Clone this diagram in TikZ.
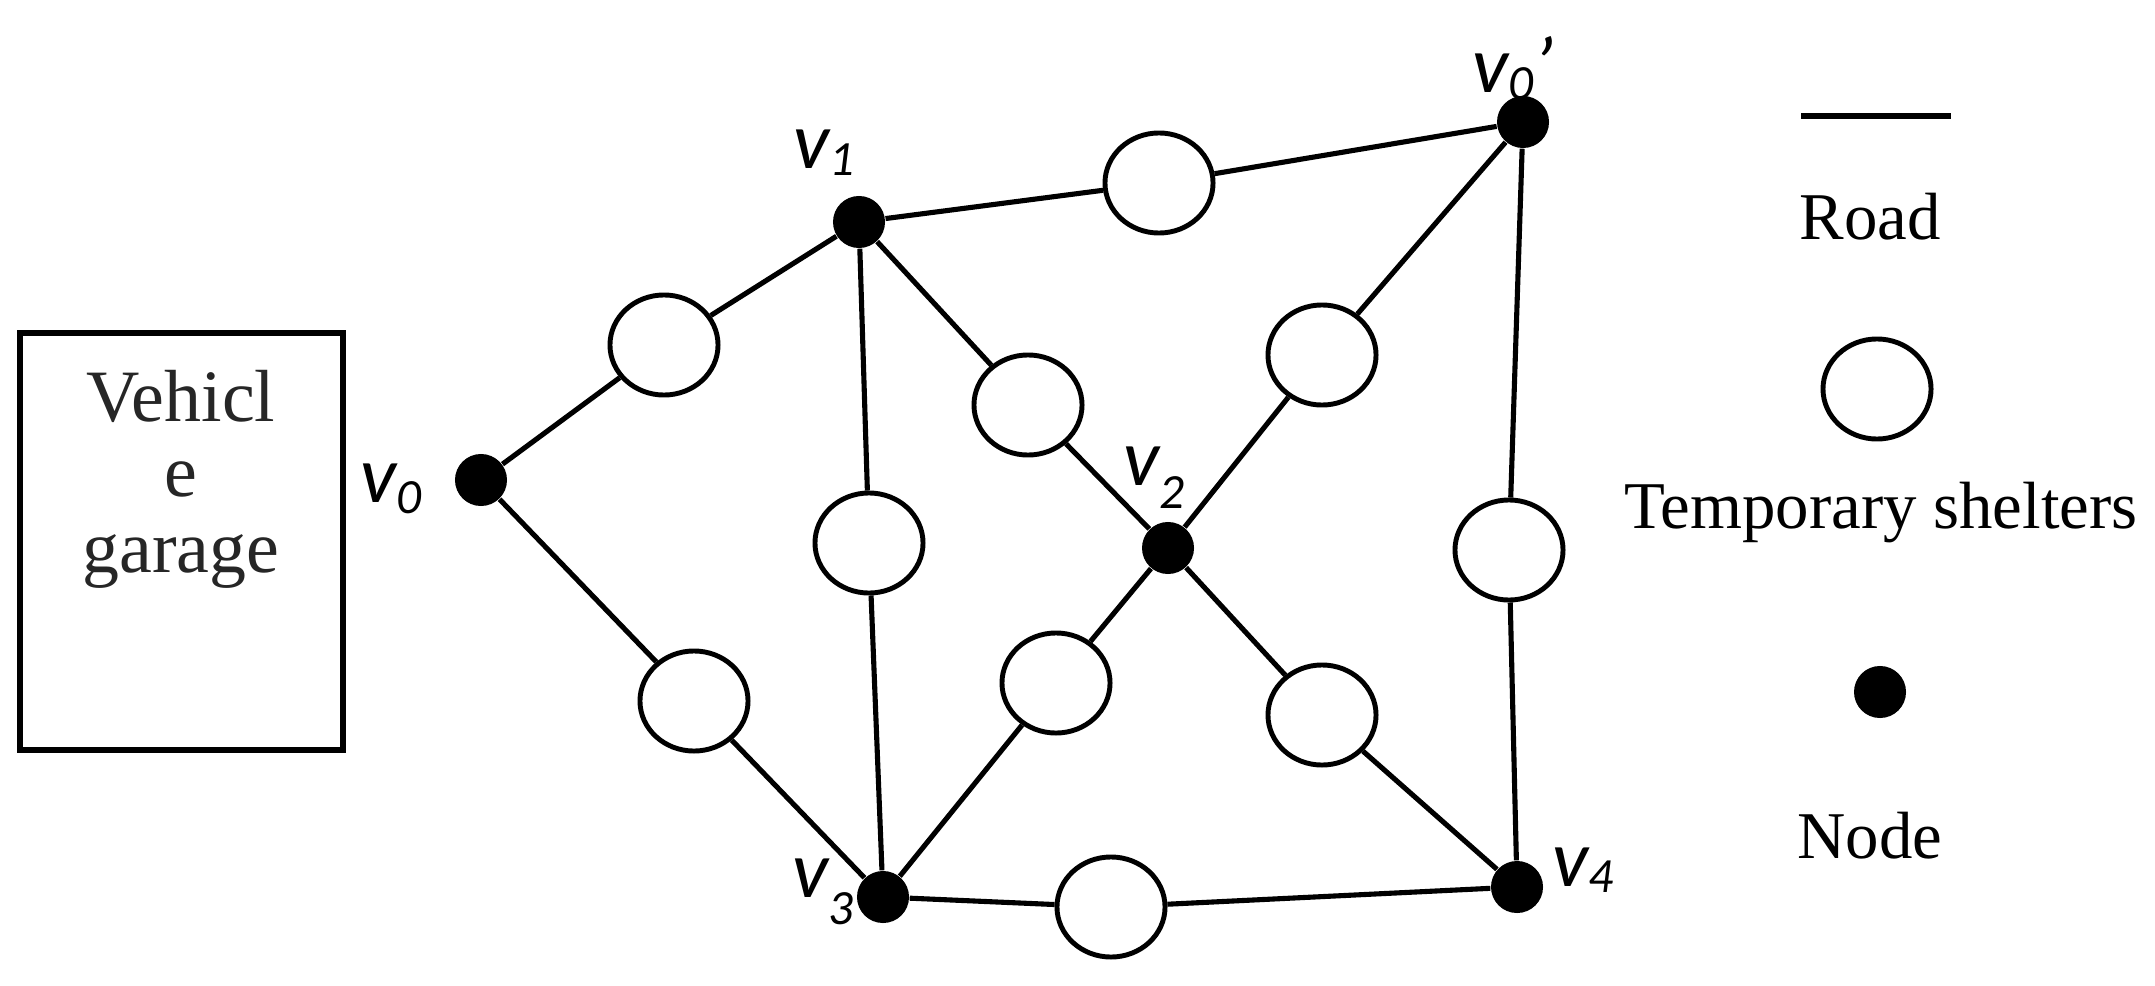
\documentclass[tikz,border=0pt]{standalone}
\usepackage{fontspec}
\setmainfont{Liberation Serif}
\newfontfamily\labfont{Carlito}
\usetikzlibrary{shapes.geometric}
\newcommand\vsub[2]{v\raisebox{-#2}{\fontsize{14}{14}\selectfont #1}}
\begin{document}
\begin{tikzpicture}[x=0.01cm,y=-0.01cm,
  road/.style={line width=1.45pt},
  shelter/.style={draw, line width=1.4pt, fill=white, ellipse, minimum width=1.08cm, minimum height=1.0cm, inner sep=0pt},
  vnode/.style={circle, fill=black, minimum size=0.52cm, inner sep=0pt},
  vlab/.style={font=\labfont\itshape\fontsize{23}{23}\selectfont, inner sep=0pt},
  legtext/.style={font=\fontsize{19}{19}\selectfont, inner sep=0pt},
  garagebox/.style={draw, line width=1.7pt, minimum width=3.23cm, minimum height=4.17cm, inner sep=0pt}]
\useasboundingbox (0,0) rectangle (2155,985);

% vehicle garage
\node[garagebox] (garage) at (181.5,541.5) {};
\node[align=center, text=black!85, font=\fontsize{21}{21.5}\selectfont, inner sep=0pt] (gtext) at (181,479) {Vehicl\\e\\garage};

% network nodes
\node[vnode] (v0) at (481,480) {};
\node[vnode] (v1) at (859,222) {};
\node[vnode] (v0p) at (1523,122) {};
\node[vnode] (v2) at (1168,548) {};
\node[vnode] (v3) at (883,897) {};
\node[vnode] (v4) at (1517,887) {};

% labels
\node[vlab] (l0) at (391,489) {\vsub{0}{3pt}};
\node[vlab] (l1) at (824,153) {\vsub{1}{2pt}};
\node[vlab] (l0p) at (1513,68) {\vsub{0}{2pt}’};
\node[vlab] (l2) at (1154,478) {\vsub{2}{6.5pt}};
\node[vlab] (l3) at (823,892) {\vsub{3}{7.5pt}};
\node[vlab] (l4) at (1583,870) {\vsub{4}{1.7pt}};

% shelters
\node[shelter] (s1) at (664,345) {};
\node[shelter] (s2) at (694,701) {};
\node[shelter] (s3) at (1159,183) {};
\node[shelter] (s4) at (869,543) {};
\node[shelter] (s5) at (1028,405) {};
\node[shelter] (s6) at (1322,355) {};
\node[shelter] (s7) at (1056,683) {};
\node[shelter] (s8) at (1322,715) {};
\node[shelter] (s9) at (1509,550) {};
\node[shelter] (s10) at (1111,907) {};

% roads
\draw[road] (v0) -- (s1) -- (v1);
\draw[road] (v0) -- (s2) -- (v3);
\draw[road] (v1) -- (s3) -- (v0p);
\draw[road] (v1) -- (s4) -- (v3);
\draw[road] (v1) -- (s5) -- (v2);
\draw[road] (v2) -- (s6) -- (v0p);
\draw[road] (v2) -- (s7) -- (v3);
\draw[road] (v2) -- (s8) -- (v4);
\draw[road] (v0p) -- (s9) -- (v4);
\draw[road] (v3) -- (s10) -- (v4);

% legend
\coordinate (ra) at (1801,116);
\coordinate (rb) at (1951,116);
\draw[road] (ra) -- (rb);
\node[legtext] (troad) at (1870,217) {Road};
\node[shelter] (legs) at (1877,389) {};
\node[legtext] (tshel) at (1881,513) {Temporary shelters};
\node[vnode] (legn) at (1880,692) {};
\node[legtext] (tnode) at (1870,836) {Node};
\end{tikzpicture}
\end{document}
